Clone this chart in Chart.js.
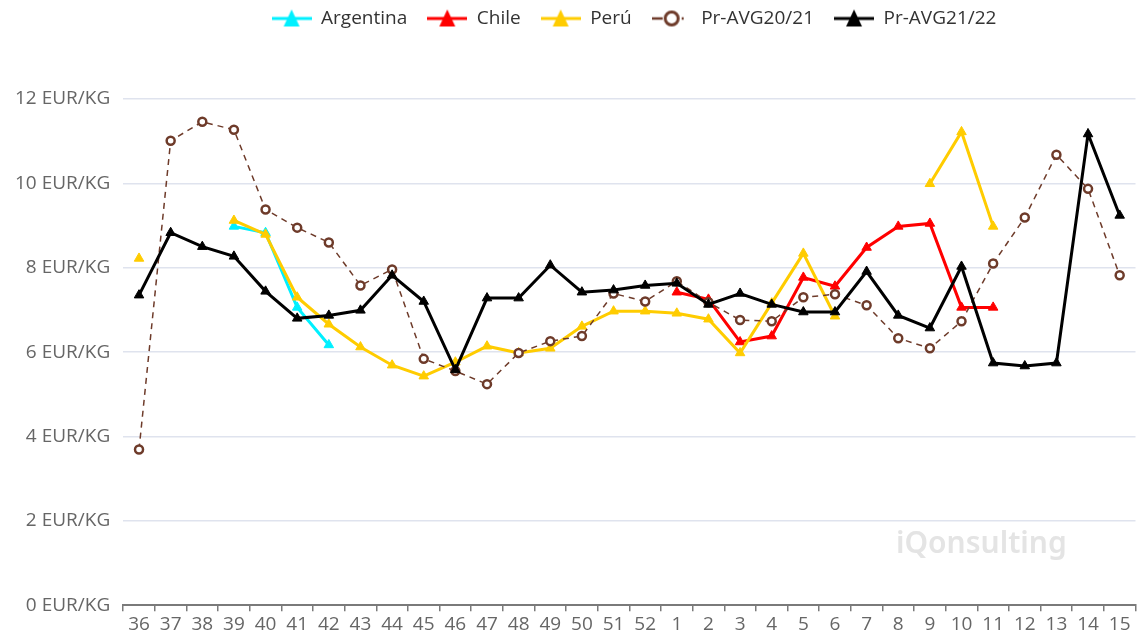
<!DOCTYPE html>
<html>
<head>
<meta charset="utf-8">
<script src="https://cdn.jsdelivr.net/npm/chart.js@4"></script>
<style>
  html, body { margin: 0; padding: 0; background: #fff; }
  #wrap { width: 1142px; height: 638px; position: relative; }
</style>
</head>
<body>
<div id="wrap"><canvas id="priceChart"></canvas></div>
<script>
// weeks 36..52 then 1..15
const weeks = ['36','37','38','39','40','41','42','43','44','45','46','47','48','49','50','51','52',
               '1','2','3','4','5','6','7','8','9','10','11','12','13','14','15'];

const argentina = [null, null, null, 8.98, 8.83, 7.06, 6.17,
  null, null, null, null, null, null, null, null, null, null,
  null, null, null, null, null, null, null, null, null, null, null, null, null, null, null];

const chile = [null, null, null, null, null, null, null, null, null, null, null, null, null, null, null, null, null,
  7.42, 7.25, 6.24, 6.38, 7.77, 7.56, 8.48, 8.98, 9.05, 7.06, 7.06, null, null, null, null];

const peru = [8.22, null, null, 9.12, 8.79, 7.30, 6.66, 6.12, 5.69, 5.43, 5.76, 6.14, 5.98, 6.09, 6.61, 6.97, 6.97,
  6.92, 6.78, 5.98, 7.16, 8.34, 6.85, null, null, 9.99, 11.22, 8.98, null, null, null, null];

const avg2021 = [3.69, 11.01, 11.46, 11.27, 9.38, 8.95, 8.60, 7.58, 7.96, 5.84, 5.55, 5.24, 5.98, 6.26, 6.38, 7.39, 7.20,
  7.68, 7.18, 6.76, 6.73, 7.30, 7.37, 7.11, 6.33, 6.09, 6.73, 8.10, 9.19, 10.68, 9.87, 7.82];

const avg2122 = [7.35, 8.83, 8.50, 8.27, 7.44, 6.80, 6.87, 6.99, 7.82, 7.20, 5.58, 7.28, 7.28, 8.06, 7.42, 7.47, 7.58,
  7.63, 7.13, 7.39, 7.13, 6.95, 6.95, 7.91, 6.87, 6.57, 8.03, 5.74, 5.67, 5.74, 11.17, 9.24];

const yTicks = [0, 2, 4, 6, 8, 10, 12];
const unit = ' EUR/KG';

const BROWN = '#6e3b2a';

Chart.defaults.font.family = '"Open Sans", "Noto Sans", sans-serif';
Chart.defaults.font.size = 19;

// legend symbol: short line with the marker in the middle
const makeIcon = (color, kind) => {
    const c = document.createElement('canvas');
    c.width = 40; c.height = 20;
    const g = c.getContext('2d');
    g.strokeStyle = color;
    if (kind === 'circle') {
        g.lineWidth = 2.5;
        g.beginPath(); g.moveTo(0, 10); g.lineTo(11, 10); g.stroke();
        g.beginPath(); g.moveTo(30, 10); g.lineTo(32, 10); g.stroke();
        g.beginPath(); g.arc(20, 10, 6.5, 0, Math.PI * 2);
        g.fillStyle = '#fff'; g.fill();
        g.lineWidth = 3; g.stroke();
    } else {
        g.lineWidth = 3;
        g.beginPath(); g.moveTo(0, 10); g.lineTo(40, 10); g.stroke();
        g.beginPath();
        g.moveTo(20, 1); g.lineTo(28, 18); g.lineTo(12, 18); g.closePath();
        g.fillStyle = color; g.fill();
    }
    return c;
};

const lineSet = (label, data, color, order) => ({
    label, data, order,
    borderColor: color,
    backgroundColor: color,
    borderWidth: 3,
    pointStyle: 'triangle',
    pointRadius: 5.5,
    pointBorderWidth: 1,
    pointBackgroundColor: color,
    pointBorderColor: color,
    tension: 0,
    spanGaps: false,
    icon: makeIcon(color, 'triangle')
});

const watermark = {
    id: 'watermark',
    beforeDatasetsDraw(chart) {
        const ctx = chart.ctx;
        ctx.save();
        ctx.font = '600 30px "Noto Sans", sans-serif';
        ctx.fillStyle = '#e4e4e4';
        ctx.textAlign = 'left';
        ctx.textBaseline = 'alphabetic';
        ctx.fillText('iQonsulting', 896, 553);
        ctx.restore();
    }
};

const legendGap = {
    id: 'legendGap',
    beforeInit(chart) {
        const fit = chart.legend.fit;
        chart.legend.fit = function () {
            fit.bind(chart.legend)();
            this.height += 48;
        };
    },
    afterLayout(chart) {
        // legend sits a bit right of centre and close to the top edge
        chart.legend.left += 62;
        chart.legend.right += 62;
        chart.legend.top -= 13;
    }
};

const ctx = document.getElementById('priceChart').getContext('2d');
new Chart(ctx, {
    type: 'line',
    data: {
        labels: weeks,
        datasets: [
            lineSet('Argentina', argentina, '#00f0ff', 5),
            lineSet('Chile', chile, '#ff0000', 4),
            lineSet('Perú', peru, '#ffcc00', 3),
            {
                label: 'Pr-AVG20/21', data: avg2021, order: 2,
                borderColor: BROWN, backgroundColor: '#fff',
                borderWidth: 1.5, borderDash: [6, 5],
                pointStyle: 'circle', pointRadius: 4, pointBorderWidth: 2.5,
                pointBackgroundColor: '#fff', pointBorderColor: BROWN,
                tension: 0,
                icon: makeIcon(BROWN, 'circle')
            },
            lineSet('Pr-AVG21/22', avg2122, '#000000', 1)
        ]
    },
    options: {
        responsive: true,
        maintainAspectRatio: false,
        animation: false,
        layout: { padding: { left: 2, right: 0, top: 2, bottom: 0 } },
        plugins: {
            tooltip: { enabled: false },
            legend: {
                position: 'top',
                labels: {
                    usePointStyle: true,
                    pointStyleWidth: 40,
                    padding: 20,
                    color: '#333',
                    font: { size: 19 },
                    sort: (a, b) => a.datasetIndex - b.datasetIndex,
                    generateLabels: (chart) => {
                        const items = Chart.defaults.plugins.legend.labels.generateLabels(chart);
                        items.forEach(it => { it.pointStyle = chart.data.datasets[it.datasetIndex].icon; });
                        return items;
                    }
                }
            }
        },
        scales: {
            x: {
                offset: true,
                grid: { offset: true, drawOnChartArea: false, drawTicks: true, tickLength: 6, color: '#7a7a7a', lineWidth: 1.5 },
                border: { display: true, color: '#7a7a7a', width: 2 },
                ticks: { color: '#666', autoSkip: false, maxRotation: 0, padding: 2, font: { size: 19 } }
            },
            y: {
                min: 0, max: 12,
                afterBuildTicks: (scale) => { scale.ticks = yTicks.map(v => ({ value: v })); },
                grid: { drawTicks: false, color: '#dfe3ee', lineWidth: 1.5 },
                border: { display: false },
                ticks: { color: '#666', padding: 13, font: { size: 19 }, callback: v => v + unit }
            }
        }
    },
    plugins: [legendGap, watermark]
});
</script>
</body>
</html>
